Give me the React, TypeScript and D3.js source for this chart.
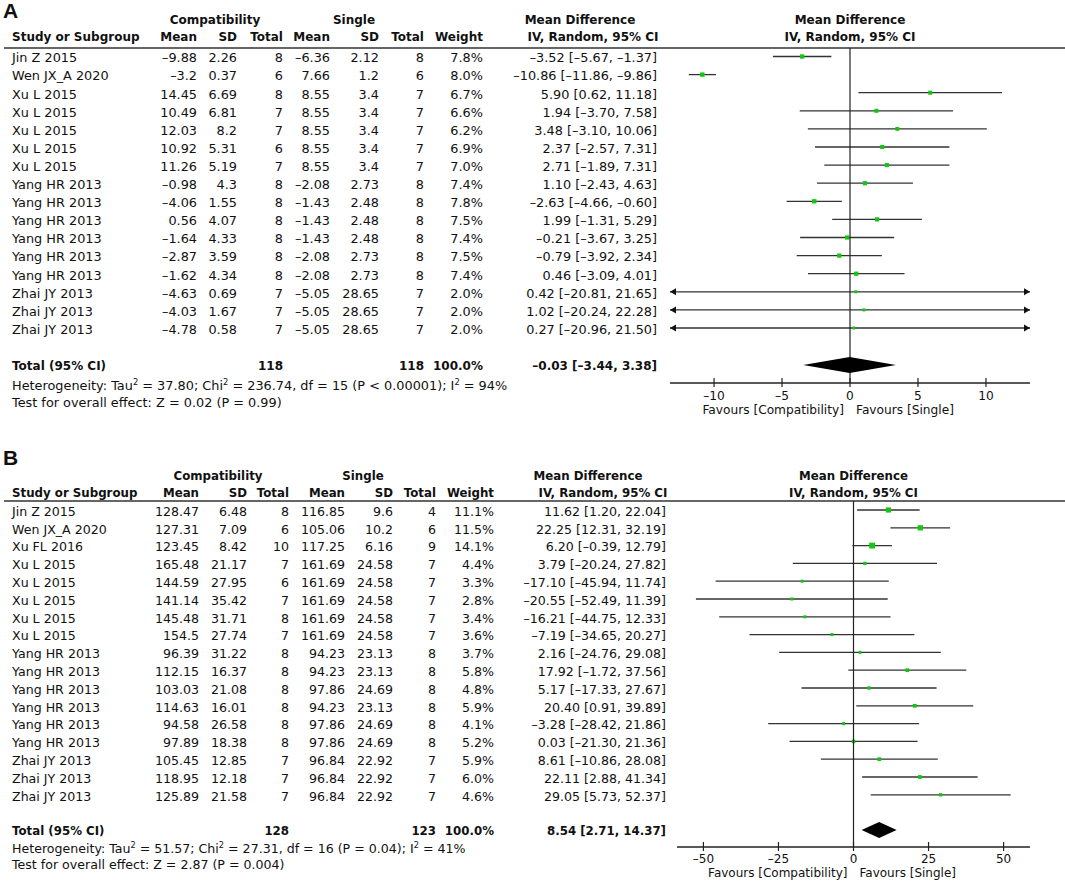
import React from 'react';
import * as d3 from 'd3';

// ---- Panel A data ----
const studiesA = ['Jin Z 2015', 'Wen JX_A 2020', 'Xu L 2015', 'Xu L 2015', 'Xu L 2015', 'Xu L 2015', 'Xu L 2015',
  'Yang HR 2013', 'Yang HR 2013', 'Yang HR 2013', 'Yang HR 2013', 'Yang HR 2013', 'Yang HR 2013',
  'Zhai JY 2013', 'Zhai JY 2013', 'Zhai JY 2013'];
const compMeanA = [-9.88, -3.2, 14.45, 10.49, 12.03, 10.92, 11.26, -0.98, -4.06, 0.56, -1.64, -2.87, -1.62, -4.63, -4.03, -4.78];
const compSdA = [2.26, 0.37, 6.69, 6.81, 8.2, 5.31, 5.19, 4.3, 1.55, 4.07, 4.33, 3.59, 4.34, 0.69, 1.67, 0.58];
const compNA = [8, 6, 8, 7, 7, 6, 7, 8, 8, 8, 8, 8, 8, 7, 7, 7];
const singMeanA = [-6.36, 7.66, 8.55, 8.55, 8.55, 8.55, 8.55, -2.08, -1.43, -1.43, -1.43, -2.08, -2.08, -5.05, -5.05, -5.05];
const singSdA = [2.12, 1.2, 3.4, 3.4, 3.4, 3.4, 3.4, 2.73, 2.48, 2.48, 2.48, 2.73, 2.73, 28.65, 28.65, 28.65];
const singNA = [8, 6, 7, 7, 7, 7, 7, 8, 8, 8, 8, 8, 8, 7, 7, 7];
const weightA = [7.8, 8.0, 6.7, 6.6, 6.2, 6.9, 7.0, 7.4, 7.8, 7.5, 7.4, 7.5, 7.4, 2.0, 2.0, 2.0];
const mdA = [-3.52, -10.86, 5.90, 1.94, 3.48, 2.37, 2.71, 1.10, -2.63, 1.99, -0.21, -0.79, 0.46, 0.42, 1.02, 0.27];
const loA = [-5.67, -11.86, 0.62, -3.70, -3.10, -2.57, -1.89, -2.43, -4.66, -1.31, -3.67, -3.92, -3.09, -20.81, -20.24, -20.96];
const hiA = [-1.37, -9.86, 11.18, 7.58, 10.06, 7.31, 7.31, 4.63, -0.60, 5.29, 3.25, 2.34, 4.01, 21.65, 22.28, 21.50];
const totalA = { n1: 118, n2: 118, md: -0.03, lo: -3.44, hi: 3.38 };
const hetA = { tau: '37.80', chi: '236.74', df: 15, p: 'P < 0.00001', i2: 94, z: '0.02', pz: '0.99' };
const ticksA = [-10, -5, 0, 5, 10];
const domainA: [number, number] = [-13.24, 13.24];

// ---- Panel B data ----
const studiesB = ['Jin Z 2015', 'Wen JX_A 2020', 'Xu FL 2016', 'Xu L 2015', 'Xu L 2015', 'Xu L 2015', 'Xu L 2015', 'Xu L 2015',
  'Yang HR 2013', 'Yang HR 2013', 'Yang HR 2013', 'Yang HR 2013', 'Yang HR 2013', 'Yang HR 2013',
  'Zhai JY 2013', 'Zhai JY 2013', 'Zhai JY 2013'];
const compMeanB = [128.47, 127.31, 123.45, 165.48, 144.59, 141.14, 145.48, 154.5, 96.39, 112.15, 103.03, 114.63, 94.58, 97.89, 105.45, 118.95, 125.89];
const compSdB = [6.48, 7.09, 8.42, 21.17, 27.95, 35.42, 31.71, 27.74, 31.22, 16.37, 21.08, 16.01, 26.58, 18.38, 12.85, 12.18, 21.58];
const compNB = [8, 6, 10, 7, 6, 7, 8, 7, 8, 8, 8, 8, 8, 8, 7, 7, 7];
const singMeanB = [116.85, 105.06, 117.25, 161.69, 161.69, 161.69, 161.69, 161.69, 94.23, 94.23, 97.86, 94.23, 97.86, 97.86, 96.84, 96.84, 96.84];
const singSdB = [9.6, 10.2, 6.16, 24.58, 24.58, 24.58, 24.58, 24.58, 23.13, 23.13, 24.69, 23.13, 24.69, 24.69, 22.92, 22.92, 22.92];
const singNB = [4, 6, 9, 7, 7, 7, 7, 7, 8, 8, 8, 8, 8, 8, 7, 7, 7];
const weightB = [11.1, 11.5, 14.1, 4.4, 3.3, 2.8, 3.4, 3.6, 3.7, 5.8, 4.8, 5.9, 4.1, 5.2, 5.9, 6.0, 4.6];
const mdB = [11.62, 22.25, 6.20, 3.79, -17.10, -20.55, -16.21, -7.19, 2.16, 17.92, 5.17, 20.40, -3.28, 0.03, 8.61, 22.11, 29.05];
const loB = [1.20, 12.31, -0.39, -20.24, -45.94, -52.49, -44.75, -34.65, -24.76, -1.72, -17.33, 0.91, -28.42, -21.30, -10.86, 2.88, 5.73];
const hiB = [22.04, 32.19, 12.79, 27.82, 11.74, 11.39, 12.33, 20.27, 29.08, 37.56, 27.67, 39.89, 21.86, 21.36, 28.08, 41.34, 52.37];
const totalB = { n1: 128, n2: 123, md: 8.54, lo: 2.71, hi: 14.37 };
const hetB = { tau: '51.57', chi: '27.31', df: 16, p: 'P = 0.04', i2: 41, z: '2.87', pz: '0.004' };
const ticksB = [-50, -25, 0, 25, 50];
const domainB: [number, number] = [-58.8, 58.8];

const FONT = '"DejaVu Sans", Verdana, sans-serif';
const dash = (s: string) => s.replace(/-/g, '\u2013');
const raw = (v: number) => dash(String(v));
const f2 = (v: number) => dash(v.toFixed(2));
const ci = (m: number, l: number, h: number) => `${f2(m)} [${f2(l)}, ${f2(h)}]`;

const ForestPanel = ({ d, L }: any) => {
  const x = d3.scaleLinear().domain(d.domain).range(L.plot);
  const [x0, x1] = L.plot;
  const rowY = (i: number) => L.row0 + i * L.step;
  const fs = L.fs;
  const c = L.cols;
  const bl = fs * 0.38;
  const sq = (w: number) => Math.max(3, 1.55 * Math.sqrt(w));
  const diamondY = L.totalY;
  const dh = 8;
  const sup = fs * 0.65;
  return (
    <g fontFamily={FONT} fontSize={fs} fill="#111">
      <text x={3} y={L.letterY} fontFamily='"Liberation Sans", Arial, sans-serif' fontWeight="bold" fontSize={21}>{L.letter}</text>
      <g fontWeight="bold" textAnchor="middle" fontSize={L.fsb}>
        <text x={c.grp1} y={L.grpY}>Compatibility</text>
        <text x={c.grp2} y={L.grpY}>Single</text>
        <text x={c.mdh1} y={L.grpY}>Mean Difference</text>
        <text x={c.mdh2} y={L.headY}>IV, Random, 95% CI</text>
        <text x={x(0)} y={L.grpY}>Mean Difference</text>
        <text x={x(0)} y={L.headY}>IV, Random, 95% CI</text>
      </g>
      <g fontWeight="bold" textAnchor="end" fontSize={L.fsb}>
        <text x={12} y={L.headY} textAnchor="start">Study or Subgroup</text>
        <text x={c.m1} y={L.headY}>Mean</text>
        <text x={c.s1} y={L.headY}>SD</text>
        <text x={c.n1} y={L.headY}>Total</text>
        <text x={c.m2} y={L.headY}>Mean</text>
        <text x={c.s2} y={L.headY}>SD</text>
        <text x={c.n2} y={L.headY}>Total</text>
        <text x={c.w} y={L.headY}>Weight</text>
      </g>
      <line x1={4} x2={1065} y1={L.lineY} y2={L.lineY} stroke="#333" strokeWidth={1.5} />
      {d.studies.map((s: string, i: number) => {
        const y = rowY(i);
        const lo = Math.max(d.lo[i], d.domain[0]);
        const hi = Math.min(d.hi[i], d.domain[1]);
        const w = sq(d.weight[i]);
        return (
          <g key={i}>
            <text x={12} y={y + bl}>{s}</text>
            <g textAnchor="end">
              <text x={c.m1} y={y + bl}>{raw(d.compMean[i])}</text>
              <text x={c.s1} y={y + bl}>{raw(d.compSd[i])}</text>
              <text x={c.n1} y={y + bl}>{d.compN[i]}</text>
              <text x={c.m2} y={y + bl}>{raw(d.singMean[i])}</text>
              <text x={c.s2} y={y + bl}>{raw(d.singSd[i])}</text>
              <text x={c.n2} y={y + bl}>{d.singN[i]}</text>
              <text x={c.w} y={y + bl}>{d.weight[i].toFixed(1)}%</text>
              <text x={c.ci} y={y + bl}>{ci(d.md[i], d.lo[i], d.hi[i])}</text>
            </g>
            <line x1={x(lo)} x2={x(hi)} y1={y - 1} y2={y - 1} stroke="#333" strokeWidth={1.3} />
            {d.lo[i] < d.domain[0] && (
              <path d={`M${x0},${y - 1}L${x0 + 6},${y - 4.5}L${x0 + 6},${y + 2.5}Z`} fill="#111" />
            )}
            {d.hi[i] > d.domain[1] && (
              <path d={`M${x1},${y - 1}L${x1 - 6},${y - 4.5}L${x1 - 6},${y + 2.5}Z`} fill="#111" />
            )}
            <rect x={x(d.md[i]) - w / 2} y={y - 1 - w / 2} width={w} height={w} fill="#10c810" />
          </g>
        );
      })}
      <g fontWeight="bold" fontSize={L.fsb}>
        <text x={12} y={L.totalY + bl}>Total (95% CI)</text>
        <text x={c.n1} y={L.totalY + bl} textAnchor="end">{d.total.n1}</text>
        <text x={c.n2} y={L.totalY + bl} textAnchor="end">{d.total.n2}</text>
        <text x={c.w} y={L.totalY + bl} textAnchor="end">100.0%</text>
        <text x={c.ci} y={L.totalY + bl} textAnchor="end">{ci(d.total.md, d.total.lo, d.total.hi)}</text>
      </g>
      <text x={12} y={L.hetY}>
        {`Heterogeneity: Tau`}<tspan dy={-5} fontSize={sup}>2</tspan>
        <tspan dy={5}>{` = ${d.het.tau}; Chi`}</tspan><tspan dy={-5} fontSize={sup}>2</tspan>
        <tspan dy={5}>{` = ${d.het.chi}, df = ${d.het.df} (${d.het.p}); I`}</tspan><tspan dy={-5} fontSize={sup}>2</tspan>
        <tspan dy={5}>{` = ${d.het.i2}%`}</tspan>
      </text>
      <text x={12} y={L.testY}>{`Test for overall effect: Z = ${d.het.z} (P = ${d.het.pz})`}</text>
      <line x1={x(0)} x2={x(0)} y1={L.lineY} y2={L.axisY} stroke="#222" strokeWidth={1.2} />
      <path
        d={`M${x(d.total.lo)},${diamondY}L${x(d.total.md)},${diamondY - dh}L${x(d.total.hi)},${diamondY}L${x(d.total.md)},${diamondY + dh}Z`}
        fill="#000"
      />
      <line x1={x0} x2={x1} y1={L.axisY} y2={L.axisY} stroke="#222" strokeWidth={1.3} />
      <g fontSize={L.fsa}>
        {d.ticks.map((t: number) => (
          <g key={t}>
            <line x1={x(t)} x2={x(t)} y1={L.axisY - 5} y2={L.axisY + 4} stroke="#222" strokeWidth={1.2} />
            <text x={x(t)} y={L.tickY} textAnchor="middle">{raw(t)}</text>
          </g>
        ))}
        <text x={x(0) - 6} y={L.favY} textAnchor="end">Favours [Compatibility]</text>
        <text x={x(0) + 6} y={L.favY}>Favours [Single]</text>
      </g>
    </g>
  );
};

const dataA = {
  studies: studiesA, compMean: compMeanA, compSd: compSdA, compN: compNA,
  singMean: singMeanA, singSd: singSdA, singN: singNA, weight: weightA,
  md: mdA, lo: loA, hi: hiA, total: totalA, het: hetA, ticks: ticksA, domain: domainA,
};
const dataB = {
  studies: studiesB, compMean: compMeanB, compSd: compSdB, compN: compNB,
  singMean: singMeanB, singSd: singSdB, singN: singNB, weight: weightB,
  md: mdB, lo: loB, hi: hiB, total: totalB, het: hetB, ticks: ticksB, domain: domainB,
};

const layoutA = {
  letter: 'A', fs: 12.85, fsb: 12, fsa: 12.2, letterY: 18, grpY: 24, headY: 41, lineY: 48, row0: 57.5, step: 18.1,
  totalY: 365, hetY: 390, testY: 407, axisY: 383, tickY: 400, favY: 414, plot: [670, 1030],
  cols: { grp1: 215, grp2: 354, mdh1: 580, mdh2: 593, m1: 197, s1: 237, n1: 283, m2: 330, s2: 379, n2: 424, w: 483, ci: 657 },
};
const layoutB = {
  letter: 'B', fs: 12.6, fsb: 11.8, fsa: 12, letterY: 465, grpY: 480, headY: 497, lineY: 501, row0: 511, step: 17.8,
  totalY: 830, hetY: 853, testY: 869, axisY: 847, tickY: 863, favY: 877, plot: [677, 1030],
  cols: { grp1: 218, grp2: 363, mdh1: 588, mdh2: 603, m1: 199, s1: 247, n1: 289, m2: 345, s2: 393, n2: 436, w: 494, ci: 666 },
};

export default function App() {
  return (
    <svg width={1065} height={881} style={{ position: 'absolute', left: 0, top: 0, background: '#fff' }}>
      <rect width={1065} height={881} fill="#fff" />
      <ForestPanel d={dataA} L={layoutA} />
      <ForestPanel d={dataB} L={layoutB} />
    </svg>
  );
}
